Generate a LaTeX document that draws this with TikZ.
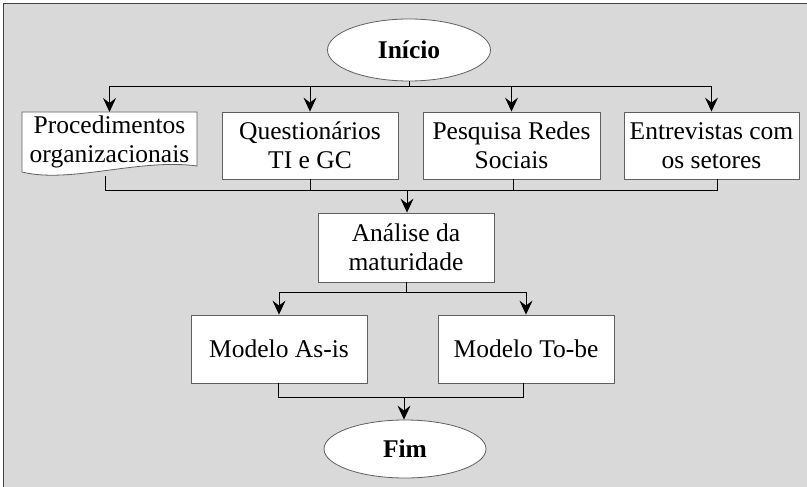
\documentclass[tikz,border=0pt]{standalone}
\usepackage{fontspec}
\setmainfont{Liberation Serif}
\usetikzlibrary{arrows.meta,shapes.geometric}
\definecolor{panel}{HTML}{D9D9D9}
\definecolor{edge}{HTML}{606060}
\tikzset{
  txt/.style={font=\fontsize{25.5}{29.5}\selectfont},
  box/.style={txt, draw=edge, fill=white, line width=0.8pt, inner sep=0pt, align=center},
  terminal/.style={ellipse, draw=edge, fill=white, line width=0.8pt, inner sep=0pt,
    font=\fontsize{25.5}{29.5}\selectfont\bfseries},
  flow/.style={draw=black, line width=1pt},
  arr/.style={flow, -{Stealth[length=14pt,width=13pt,inset=5pt]}}
}
\begin{document}
\begin{tikzpicture}[x=1pt,y=-1pt]
  \useasboundingbox (0,0) rectangle (807,487);
  \begin{scope}
    \clip (0,0) rectangle (807,487);
    \draw[draw=edge!70!black, line width=1.2pt, fill=panel] (3.5,3.5) rectangle (820,500);
  \end{scope}

  % start / end
  \node[terminal, minimum width=163pt, minimum height=62pt] (start) at (409,50) {Início};
  \node[terminal, minimum width=162pt, minimum height=58pt] (fim) at (405,449) {Fim};

  % data sources
  \draw[draw=edge, fill=white, line width=0.8pt] (22,112) -- (197,112) -- (197,166)
    .. controls (140,158) and (70,184) .. (22,172) -- cycle;
  \node[txt, align=center, inner sep=0pt] (proc) at (109.5,142)
    {Procedimentos\\organizacionais};
  \coordinate (procTop) at (109.5,112);
  \coordinate (procBot) at (105,176);

  \node[box, minimum width=176pt, minimum height=67pt] (quest) at (310,145.5) {Questionários\\TI e GC};
  \node[box, minimum width=177pt, minimum height=67pt] (pesq) at (511.5,145.5) {Pesquisa Redes\\Sociais};
  \node[box, minimum width=175pt, minimum height=67pt] (entr) at (711.5,145.5) {Entrevistas com\\os setores};

  \node[box, minimum width=176pt, minimum height=69pt] (anal) at (406,247.5) {Análise da\\maturidade};

  \node[box, minimum width=176pt, minimum height=68pt] (asis) at (279,349) {Modelo As-is};
  \node[box, minimum width=176pt, minimum height=68pt] (tobe) at (526,349) {Modelo To-be};

  % fan-out from start
  \coordinate (b1) at (409,87);
  \draw[flow] (start.south) -- (b1);
  \draw[arr] (b1) -| (procTop);
  \draw[arr] (b1) -| (quest.north);
  \draw[arr] (b1) -| (pesq.north);
  \draw[arr] (b1) -| (entr.north);

  % merge into analysis
  \coordinate (m1) at (407,190);
  \draw[flow] (procBot) |- (m1);
  \draw[flow] (quest.south) |- (m1);
  \draw[flow] (pesq.south -| 513,0) -- (513,190) -- (m1);
  \draw[flow] (entr.south -| 717,0) -- (717,190) -- (m1);
  \draw[arr] (m1) -- (anal.north -| m1);

  % split into models
  \coordinate (b2) at (406,292);
  \draw[flow] (anal.south) -- (b2);
  \draw[arr] (b2) -| (asis.north);
  \draw[arr] (b2) -| (tobe.north);

  % merge into end
  \coordinate (m2) at (404,397);
  \draw[flow] (asis.south -| 278,0) -- (278,397) -- (m2);
  \draw[flow] (tobe.south -| 523,0) -- (523,397) -- (m2);
  \draw[arr] (m2) -- (fim.north -| m2);
\end{tikzpicture}
\end{document}
